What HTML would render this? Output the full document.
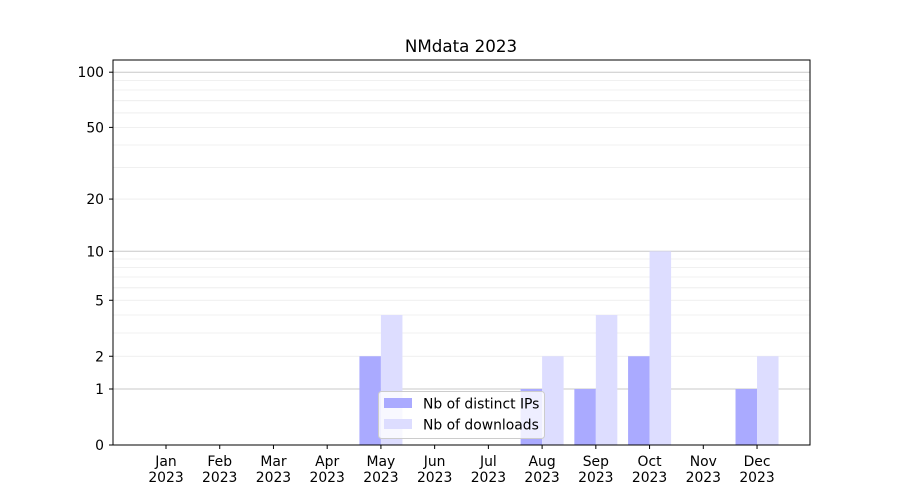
<!DOCTYPE html>
<html><head><meta charset="utf-8"><style>body{margin:0;background:#fff}svg{display:block;font-family:"DejaVu Sans","Liberation Sans",sans-serif}</style></head>
<body>
<svg id="s" width="900" height="500" viewBox="0 0 900 500" xmlns="http://www.w3.org/2000/svg">
<rect width="900" height="500" fill="#fff"/>
<g id="grid"></g>
<g id="bars"></g>
<rect x="113" y="60" width="697" height="385" fill="none" stroke="#000" stroke-width="1"/>
<g id="ticks" font-size="13.9" fill="#000"></g>
<text x="461" y="52" font-size="16.7" text-anchor="middle">NMdata 2023</text>
<g>
<rect x="378.5" y="391.5" width="166" height="47" rx="3" fill="#fff" fill-opacity="0.8" stroke="#ccc"/>
<rect x="384" y="398" width="28" height="10" fill="#aaaaff"/>
<rect x="384" y="419" width="28" height="10" fill="#ddddff"/>
<text x="423" y="408.5" font-size="13.9">Nb of distinct IPs</text>
<text x="423" y="429.5" font-size="13.9">Nb of downloads</text>
</g>
</svg>
<script>
var ns="http://www.w3.org/2000/svg";
function Y(v){return 445-186*Math.log10(1+v);}
function el(p,t,a,txt){var e=document.createElementNS(ns,t);for(var k in a)e.setAttribute(k,a[k]);if(txt!==undefined)e.textContent=txt;document.getElementById(p).appendChild(e);return e;}
var vals=[];for(var i=2;i<=9;i++)vals.push(i);for(i=20;i<=90;i+=10)vals.push(i);
vals.forEach(function(v){var y=Y(v);el("grid","line",{x1:113,x2:810,y1:y,y2:y,stroke:"#ebebeb","stroke-width":0.8});});
[1,10,100].forEach(function(v){var y=Y(v);el("grid","line",{x1:113,x2:810,y1:y,y2:y,stroke:"#c8c8c8","stroke-width":1});});
var ip=[0,0,0,0,2,0,0,1,1,2,0,1],dl=[0,0,0,0,4,0,0,2,4,10,0,2];
var m=["Jan","Feb","Mar","Apr","May","Jun","Jul","Aug","Sep","Oct","Nov","Dec"];
for(i=0;i<12;i++){var c=166+53.73*i;
 if(ip[i]>0){var y=Y(ip[i]);el("bars","rect",{x:c-21.5,y:y,width:21.5,height:445-y,fill:"#aaaaff"});}
 if(dl[i]>0){y=Y(dl[i]);el("bars","rect",{x:c,y:y,width:21.5,height:445-y,fill:"#ddddff"});}
 el("ticks","line",{x1:c,x2:c,y1:445,y2:449,stroke:"#000"});
 el("ticks","text",{x:c,y:466,"text-anchor":"middle"},m[i]);
 el("ticks","text",{x:c,y:482,"text-anchor":"middle"},"2023");
}
[0,1,2,5,10,20,50,100].forEach(function(v){var y=Y(v);
 el("ticks","line",{x1:109,x2:113,y1:y,y2:y,stroke:"#000"});
 el("ticks","text",{x:104,y:y+5,"text-anchor":"end"},String(v));});
</script>
</body></html>
